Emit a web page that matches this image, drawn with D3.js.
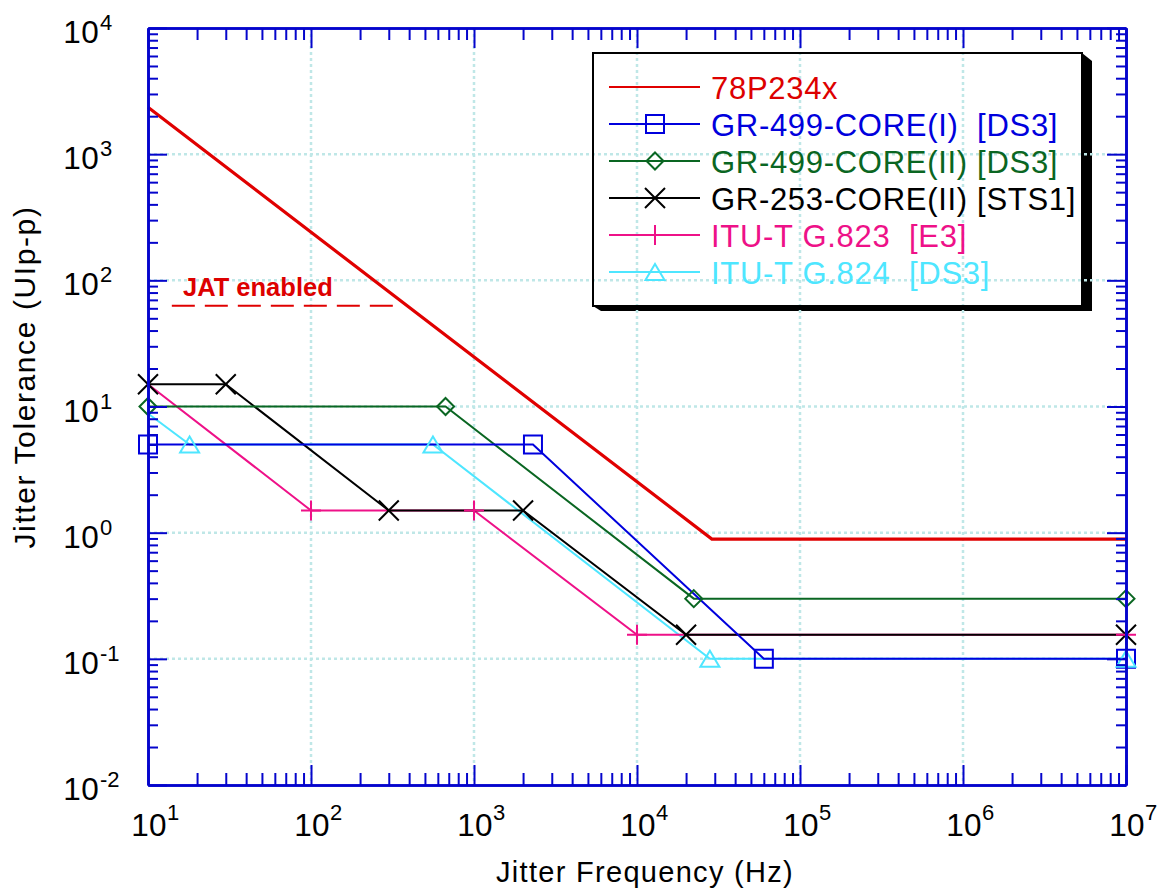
<!DOCTYPE html>
<html><head><meta charset="utf-8">
<script src="https://cdn.jsdelivr.net/npm/d3@7"></script>
<style>
body{margin:0;background:#fff}
text{font-family:"Liberation Sans",Arial,Helvetica,sans-serif}
</style>
</head><body>
<svg id="c" width="1161" height="892"></svg>
<script>
// ---------------- data ----------------
const seriesNames = ["78P234x", "GR-499-CORE(I)  [DS3]", "GR-499-CORE(II) [DS3]",
  "GR-253-CORE(II) [STS1]", "ITU-T G.823  [E3]", "ITU-T G.824  [DS3]"];
const freq78P234x = [10, 28800, 1e7];
const tol78P234x  = [2350, 0.89, 0.89];
const freqGR499I  = [10, 2300, 60000, 1e7];
const tolGR499I   = [5, 5, 0.1, 0.1];
const freqGR499II = [10, 669, 22300, 1e7];
const tolGR499II  = [10, 10, 0.3, 0.3];
const freqGR253II = [10, 30, 300, 2000, 20000, 1e7];
const tolGR253II  = [15, 15, 1.5, 1.5, 0.155, 0.155];
const freqG823    = [10, 100, 1000, 10000, 1e7];
const tolG823     = [15, 1.5, 1.5, 0.155, 0.155];
const freqG824    = [10, 18, 560, 28000, 1e7];
const tolG824     = [8.8, 5, 5, 0.1, 0.1];
const jatFreq = [14, 330];
const jatTol  = [63, 63];
const jatLabel = "JAT enabled";
const xTickExponents = [1, 2, 3, 4, 5, 6, 7];
const yTickExponents = [-2, -1, 0, 1, 2, 3, 4];
const xTitle = "Jitter Frequency (Hz)";
const yTitle = "Jitter Tolerance (UIp-p)";

// ---------------- styles ----------------
const series = [
  {name: seriesNames[0], f: freq78P234x, v: tol78P234x, color: "#e00000", text: "#dd0000", w: 3.2, marker: null, first: 0},
  {name: seriesNames[1], f: freqGR499I,  v: tolGR499I,  color: "#0000dd", text: "#0000dd", w: 2, marker: "square", first: 0},
  {name: seriesNames[2], f: freqGR499II, v: tolGR499II, color: "#0a6622", text: "#0a6622", w: 2, marker: "diamond", first: 0},
  {name: seriesNames[3], f: freqGR253II, v: tolGR253II, color: "#000000", text: "#000000", w: 2, marker: "x", first: 0},
  {name: seriesNames[4], f: freqG823,    v: tolG823,    color: "#ee1188", text: "#ee1188", w: 2, marker: "plus", first: 1},
  {name: seriesNames[5], f: freqG824,    v: tolG824,    color: "#4ee6ff", text: "#4ee6ff", w: 2, marker: "triangle", first: 1}
];

const L = 148, R = 1126, T = 28, B = 785;
const axisColor = "#0505cc";
const gridColor = "#bfe7e7";

const svg = d3.select("#c");
const x = d3.scaleLog().domain([10, 1e7]).range([L, R]);
const y = d3.scaleLog().domain([0.01, 1e4]).range([B, T]);

function markerPath(type, cx, cy) {
  const p = d3.path();
  if (type === "square") { const s = 9; p.rect(cx - s, cy - s, 2 * s, 2 * s); }
  else if (type === "diamond") { const s = 8.5; p.moveTo(cx, cy - s); p.lineTo(cx + s, cy); p.lineTo(cx, cy + s); p.lineTo(cx - s, cy); p.closePath(); }
  else if (type === "x") { const s = 10; p.moveTo(cx - s, cy - s); p.lineTo(cx + s, cy + s); p.moveTo(cx + s, cy - s); p.lineTo(cx - s, cy + s); }
  else if (type === "plus") { const s = 10; p.moveTo(cx - s, cy); p.lineTo(cx + s, cy); p.moveTo(cx, cy - s); p.lineTo(cx, cy + s); }
  else if (type === "triangle") { const w = 9.5, h = 8; p.moveTo(cx, cy - h); p.lineTo(cx + w, cy + h); p.lineTo(cx - w, cy + h); p.closePath(); }
  return p.toString();
}

// ---------------- legend background ----------------
const lg = {x: 593, y: 53, w: 489, h: 253};
svg.append("polygon")
  .attr("points", [[lg.x + lg.w, lg.y], [lg.x + lg.w + 10, lg.y + 8], [lg.x + lg.w + 10, lg.y + lg.h + 5],
                   [lg.x + 8, lg.y + lg.h + 5], [lg.x, lg.y + lg.h]].map(d => d.join(",")).join(" "))
  .attr("fill", "#000");
svg.append("rect").attr("x", lg.x).attr("y", lg.y).attr("width", lg.w).attr("height", lg.h).attr("fill", "#fff");

// ---------------- grid ----------------
const majorX = xTickExponents.map(e => Math.pow(10, e));
const majorY = yTickExponents.map(e => Math.pow(10, e));
const grid = svg.append("g");
grid.selectAll("line.gx").data(majorX.slice(1, -1)).join("line")
  .attr("x1", d => x(d)).attr("x2", d => x(d)).attr("y1", T).attr("y2", B)
  .attr("stroke", gridColor).attr("stroke-width", 2.5).attr("stroke-dasharray", "3,3");
grid.selectAll("line.gy").data(majorY.slice(1, -1)).join("line")
  .attr("y1", d => y(d)).attr("y2", d => y(d)).attr("x1", L).attr("x2", R)
  .attr("stroke", gridColor).attr("stroke-width", 2.5).attr("stroke-dasharray", "3,3");

// ---------------- JAT annotation ----------------
const line = d3.line().x(d => x(d[0])).y(d => y(d[1]));
svg.append("path").datum(d3.zip(jatFreq, jatTol)).attr("d", line)
  .attr("fill", "none").attr("stroke", "#e00000").attr("stroke-width", 2).attr("stroke-dasharray", "23,10");
svg.append("text").attr("x", 183).attr("y", 296).attr("fill", "#dd0000")
  .attr("font-size", 25.5).attr("font-weight", "bold").text(jatLabel);

// ---------------- series ----------------
const sg = svg.append("g");
series.slice().reverse().forEach(s => {
  const pts = d3.zip(s.f, s.v);
  sg.append("path").datum(pts).attr("d", line)
    .attr("fill", "none").attr("stroke", s.color).attr("stroke-width", s.w).attr("stroke-linejoin", "miter");
});
series.forEach(s => {
  if (!s.marker) return;
  const pts = d3.zip(s.f, s.v).slice(s.first);
  sg.selectAll(null).data(pts).join("path")
    .attr("d", d => markerPath(s.marker, x(d[0]), y(d[1])))
    .attr("fill", "none").attr("stroke", s.color).attr("stroke-width", 2);
});

// ---------------- axes ----------------
function minorTicks(exps) {
  const out = [];
  for (let i = 0; i < exps.length - 1; i++)
    for (let k = 2; k <= 9; k++) out.push(k * Math.pow(10, exps[i]));
  return out;
}
const minorX = minorTicks(xTickExponents), minorY = minorTicks(yTickExponents);
function styleAxis(g) {
  g.select(".domain").attr("stroke", axisColor).attr("stroke-width", 2.6);
  g.selectAll(".tick line").attr("stroke", axisColor).attr("stroke-width", 2);
  g.selectAll(".tick text").remove();
}
const axes = [
  [d3.axisBottom(x), `translate(0,${B})`, minorX, majorX, -12, -20],
  [d3.axisTop(x), `translate(0,${T})`, minorX, majorX, -12, -20],
  [d3.axisLeft(y), `translate(${L},0)`, minorY, majorY, -10, -19],
  [d3.axisRight(y), `translate(${R},0)`, minorY, majorY, -10, -19]
];
axes.forEach(([ax, tr, minor, major, ms, Ms]) => {
  svg.append("g").attr("transform", tr)
    .call(ax.tickValues(minor).tickSize(ms).tickSizeOuter(0).tickFormat(""))
    .call(styleAxis);
  svg.append("g").attr("transform", tr)
    .call(ax.tickValues(major).tickSize(Ms).tickSizeOuter(0).tickFormat(""))
    .call(styleAxis);
});

// ---------------- tick labels ----------------
const tl = svg.append("g").attr("fill", "#000");
xTickExponents.forEach(e => {
  const px = x(Math.pow(10, e));
  tl.append("text").attr("x", px + 1).attr("y", 836).attr("text-anchor", "middle")
    .attr("font-size", 31.5).attr("letter-spacing", 0.3).text("10");
  tl.append("text").attr("x", px + 19).attr("y", 820).attr("font-size", 22).text(String(e));
});
yTickExponents.forEach(e => {
  const py = y(Math.pow(10, e));
  tl.append("text").attr("x", 99).attr("y", py + 15).attr("text-anchor", "end")
    .attr("font-size", 31.5).attr("letter-spacing", 0.3).text("10");
  tl.append("text").attr("x", 100).attr("y", py + 2).attr("font-size", 22).text(String(e));
});

// ---------------- titles ----------------
svg.append("text").attr("x", 645).attr("y", 882).attr("text-anchor", "middle")
  .attr("font-size", 29).attr("letter-spacing", 1.3).text(xTitle);
svg.append("text").attr("transform", "translate(35,377) rotate(-90)").attr("text-anchor", "middle")
  .attr("font-size", 30).attr("letter-spacing", 1.6).text(yTitle);

// ---------------- legend ----------------
svg.append("rect").attr("x", lg.x).attr("y", lg.y).attr("width", lg.w).attr("height", lg.h)
  .attr("fill", "none").attr("stroke", "#000").attr("stroke-width", 2);
const leg = svg.append("g");
series.forEach((s, i) => {
  const ry = 87 + i * 37;
  leg.append("line").attr("x1", 609).attr("x2", 700).attr("y1", ry).attr("y2", ry)
    .attr("stroke", s.color).attr("stroke-width", 2);
  if (s.marker) leg.append("path").attr("d", markerPath(s.marker, 655, ry))
    .attr("fill", "none").attr("stroke", s.color).attr("stroke-width", 2);
  leg.append("text").attr("x", 711).attr("y", ry + 11.5).attr("fill", s.text)
    .attr("font-size", 31).attr("letter-spacing", 0.7).style("white-space", "pre").text(s.name);
});
</script>
</body></html>
